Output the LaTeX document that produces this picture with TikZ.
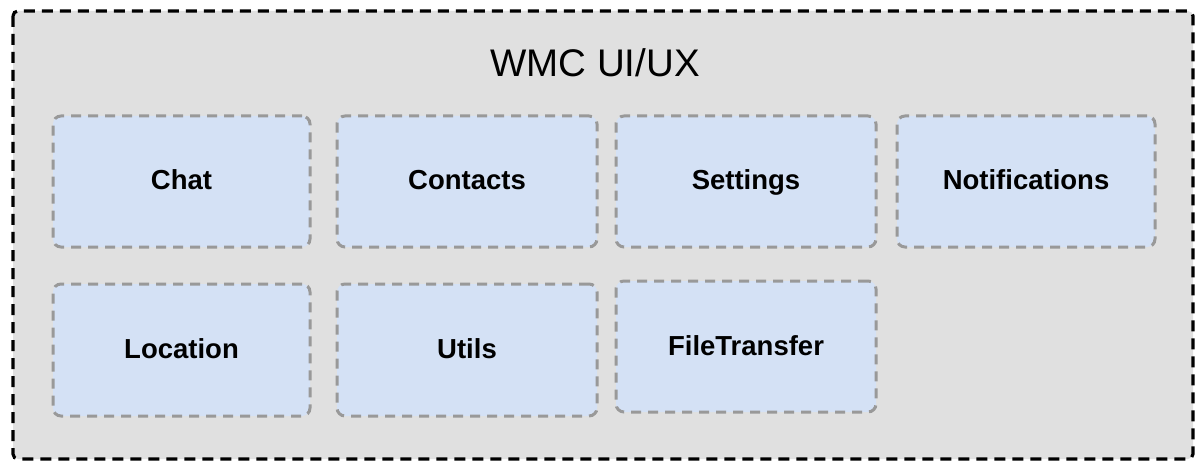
\documentclass[tikz,border=0pt]{standalone}
\usepackage{fontspec}
\setmainfont{Liberation Sans}
\definecolor{panelfill}{HTML}{E0E0E0}
\definecolor{modfill}{HTML}{D4E1F5}
\definecolor{modline}{HTML}{999999}
\begin{document}
\begin{tikzpicture}[x=1pt,y=-1pt,
  panel/.style={draw=black, fill=panelfill, line width=3.2pt,
    dash pattern=on 11pt off 7pt, rounded corners=5pt},
  module/.style={draw=modline, fill=modfill, line width=3pt,
    dash pattern=on 10pt off 7pt, rounded corners=8pt,
    inner sep=0pt, outer sep=0pt, minimum height=131pt,
    text height=23pt, text depth=6pt,
    font=\fontsize{27.5}{32}\selectfont\bfseries},
  title/.style={font=\fontsize{38.5}{44}\selectfont}]
  \useasboundingbox (0,0) rectangle (1198,462);
  % outer container
  \draw[panel] (13,11) rectangle (1193,459);
  \node[title] (title) at (595,63) {WMC UI/UX};
  % first row of modules
  \node[module, minimum width=257pt] (chat) at (181.5,181.5) {Chat};
  \node[module, minimum width=260pt] (contacts) at (467,181.5) {Contacts};
  \node[module, minimum width=260pt] (settings) at (746,181.5) {Settings};
  \node[module, minimum width=258pt] (notif) at (1026,181.5) {Notifications};
  % second row of modules
  \node[module, minimum width=257pt, minimum height=132pt] (location) at (181.5,350) {Location};
  \node[module, minimum width=260pt, minimum height=132pt] (utils) at (467,350) {Utils};
  \node[module, minimum width=260pt] (filetransfer) at (746,346.5) {FileTransfer};
\end{tikzpicture}
\end{document}
